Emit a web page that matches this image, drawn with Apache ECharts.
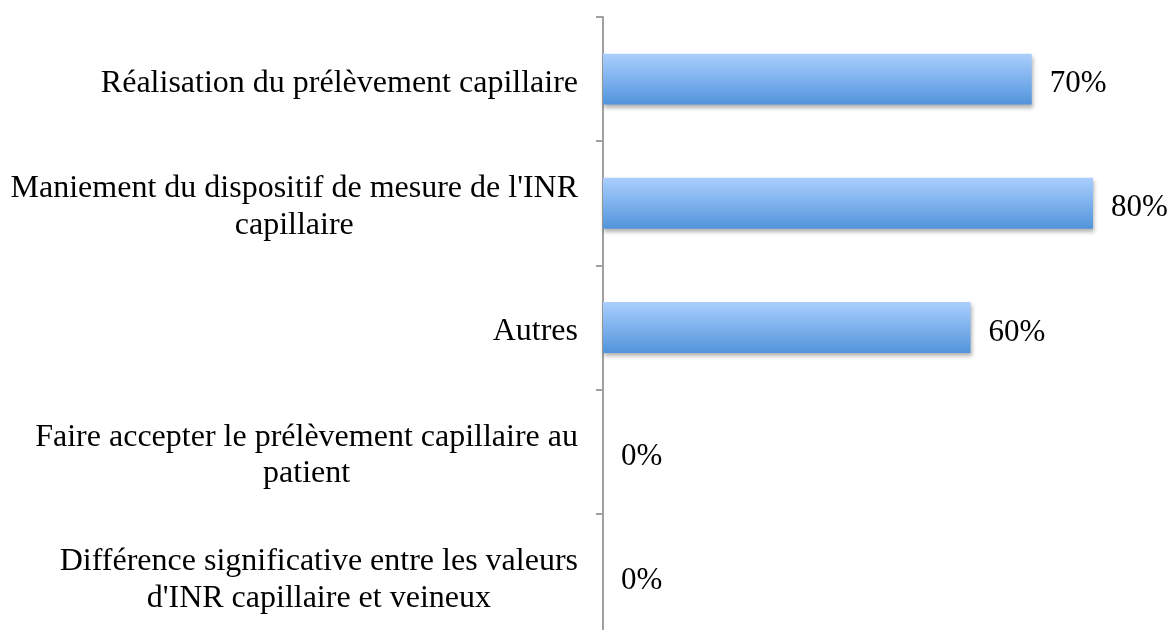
<!DOCTYPE html>
<html>
<head>
<meta charset="utf-8">
<script src="https://cdn.jsdelivr.net/npm/echarts@6/dist/echarts.min.js"></script>
<style>
  html, body { margin: 0; padding: 0; background: #fff; }
  #chart { width: 1174px; height: 630px; }
</style>
</head>
<body>
<div id="chart"></div>
<script>
const categories = [
  'Réalisation du prélèvement capillaire',
  "Maniement du dispositif de mesure de l'INR\ncapillaire",
  'Autres',
  'Faire accepter le prélèvement capillaire au\npatient',
  "Différence significative entre les valeurs\nd'INR capillaire et veineux",
]
const values = [70, 80, 60, 0, 0]

const FONT = "'Liberation Serif', 'Times New Roman', serif"

const chart = echarts.init(document.getElementById('chart'), null, { renderer: 'canvas' })

chart.setOption({
  animation: false,
  grid: { left: 603, top: 17, width: 612.5, height: 621, outerBoundsMode: 'none', containLabel: false },
  xAxis: {
    type: 'value',
    min: 0,
    max: 100,
    show: false,
  },
  yAxis: {
    type: 'category',
    inverse: true,
    data: categories,
    axisLine: { show: true, lineStyle: { color: '#a0a0a0', width: 2 } },
    axisTick: { show: true, inside: false, length: 7, lineStyle: { color: '#a0a0a0', width: 2 } },
    axisLabel: {
      margin: 25,
      align: 'right',
      padding: [8, 0, 0, 0],
      // center each wrapped line inside the right-aligned block
      formatter: v => v.split('\n').map(s => '{t|' + s + '}').join('\n'),
      rich: {
        t: {
          color: '#000',
          fontFamily: FONT,
          fontSize: 32,
          lineHeight: 36.5,
          align: 'center',
        },
      },
    },
  },
  series: [{
    type: 'bar',
    data: values,
    barWidth: '41%',
    itemStyle: {
      color: new echarts.graphic.LinearGradient(0, 0, 0, 1, [
        { offset: 0, color: '#abcffd' },
        { offset: 1, color: '#5194dc' },
      ]),
      shadowColor: 'rgba(0,0,0,0.3)',
      shadowBlur: 4,
      shadowOffsetX: 1,
      shadowOffsetY: 3,
    },
    label: {
      show: true,
      position: 'right',
      distance: 18,
      offset: [0, 5],
      formatter: '{c}%',
      color: '#000',
      fontFamily: FONT,
      fontSize: 31,
    },
  }],
})
</script>
</body>
</html>
